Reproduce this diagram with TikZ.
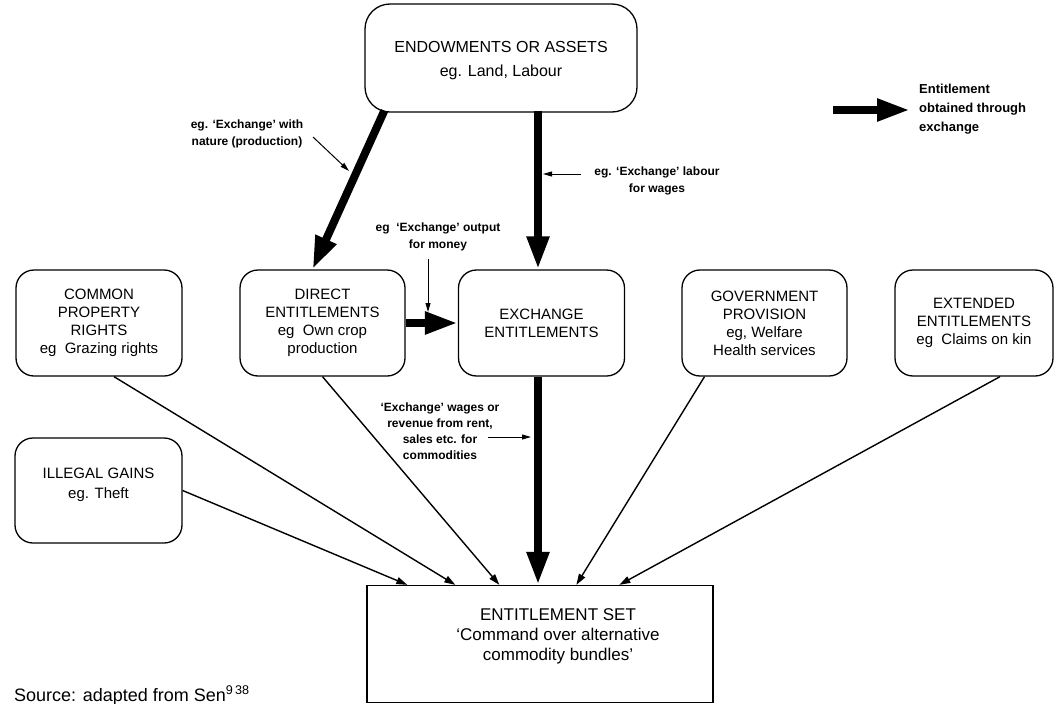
\documentclass[tikz,border=0pt]{standalone}
\usepackage{fontspec}
\setmainfont{Liberation Sans}
\usetikzlibrary{arrows.meta,calc}
\begin{document}
\begin{tikzpicture}[x=1pt,y=-1pt,
  box/.style={draw,line width=1.3pt,rounded corners=18pt,minimum width=166pt,minimum height=106pt,align=center,inner sep=0pt,font=\fontsize{15}{18}\selectfont},
  lbl/.style={align=center,inner sep=0pt,font=\bfseries\fontsize{12}{17}\selectfont},
  bigarrow/.style={line width=8pt,-{Triangle[length=33pt,width=21pt]}},
  feed/.style={line width=1.4pt,-{Triangle[length=11pt,width=7pt]}},
  pointer/.style={line width=1pt,-{Triangle[length=9pt,width=5pt]}}]
\useasboundingbox (0,0) rectangle (1055,704);

% boxes
\node[box,minimum width=272pt,minimum height=108pt,rounded corners=25pt] (endow) at (501,58) {};
\node[font=\fontsize{16}{24}\selectfont,align=center,inner sep=0pt] (endowtext) at (501,61) {ENDOWMENTS OR ASSETS\\eg. Land, Labour};
\node[box] (common) at (99,323) {COMMON\\PROPERTY\\RIGHTS\\eg\ \ Grazing rights};
\node[box,minimum width=165pt] (direct) at (322.5,323) {DIRECT\\ENTITLEMENTS\\eg\ \ Own crop\\production};
\node[box] (exch) at (541.5,323) {EXCHANGE\\ENTITLEMENTS};
\node[box,minimum width=165pt] (gov) at (764.5,323) {GOVERNMENT\\PROVISION\\eg, Welfare\\Health services};
\node[box,minimum width=158pt] (ext) at (974,323) {EXTENDED\\ENTITLEMENTS\\eg\ \ Claims on kin};
\node[box,minimum width=167pt,minimum height=105pt] (illegal) at (98.5,490.5) {};
\node[align=center,inner sep=0pt,font=\fontsize{15}{20}\selectfont] (illegaltext) at (98.5,485) {ILLEGAL GAINS\\eg. Theft};
\node[draw,line width=1.3pt,minimum width=346pt,minimum height=117pt,inner sep=0pt] (ent) at (540,644) {};
\node[font=\fontsize{17}{20}\selectfont,align=center,inner sep=0pt] (enttext) at (558,636) {ENTITLEMENT SET\\`Command over alternative\\commodity bundles'};

% thick exchange arrows
\draw[bigarrow] ([xshift=20pt,yshift=2pt]endow.south west) -- ([xshift=-10pt]direct.north);
\draw[bigarrow] ([xshift=37pt,yshift=2pt]endow.south) -- ([xshift=37pt]endow.south |- exch.north);
\draw[bigarrow] (direct.east) -- (exch.west);
\draw[bigarrow] ([xshift=-3.5pt]exch.south) -- ([xshift=-2pt]ent.north);

% other entitlements
\draw[feed] (illegal.east) -- ([xshift=41pt]ent.north west);
\draw[feed] ([xshift=15pt]common.south) -- ([xshift=89pt]ent.north west);
\draw[feed] (direct.south) -- ([xshift=133pt]ent.north west);
\draw[feed] ([xshift=-60pt]gov.south) -- ([xshift=210pt]ent.north west);
\draw[feed] ([xshift=26pt]ext.south) -- ([xshift=253pt]ent.north west);

% labels with pointers
\node[lbl] (lwith) at (247,134) {eg. `Exchange' with\\nature (production)};
\coordinate (pw1) at (313,137); \coordinate (pw2) at (349,171);
\draw[pointer] (pw1) -- (pw2);

\node[lbl] (llab) at (657,181) {eg. `Exchange' labour\\for wages};
\coordinate (pl1) at (581,174); \coordinate (pl2) at (543,174);
\draw[pointer] (pl1) -- (pl2);

\node[lbl] (lout) at (438,237) {eg\ \ `Exchange' output\\for money};
\coordinate (po1) at (428,259); \coordinate (po2) at (428,312);
\draw[pointer] (po1) -- (po2);

\node[lbl,font=\bfseries\fontsize{12}{16}\selectfont] (lwag) at (440,431) {`Exchange' wages or\\revenue from rent,\\sales etc. for\\commodities};
\coordinate (pg1) at (488,437); \coordinate (pg2) at (531,437);
\draw[pointer] (pg1) -- (pg2);

% legend
\coordinate (lg1) at (833,110); \coordinate (lg2) at (910,110);
\draw[bigarrow] (lg1) -- (lg2);
\node[lbl,align=left,anchor=west,font=\bfseries\fontsize{13}{19}\selectfont] (legend) at (919,109) {Entitlement\\obtained through\\exchange};

% source
\node[anchor=base west,font=\fontsize{18}{20}\selectfont,inner sep=0pt] (src) at (14,701) {Source: adapted from Sen\textsuperscript{9\,38}};
\end{tikzpicture}
\end{document}
